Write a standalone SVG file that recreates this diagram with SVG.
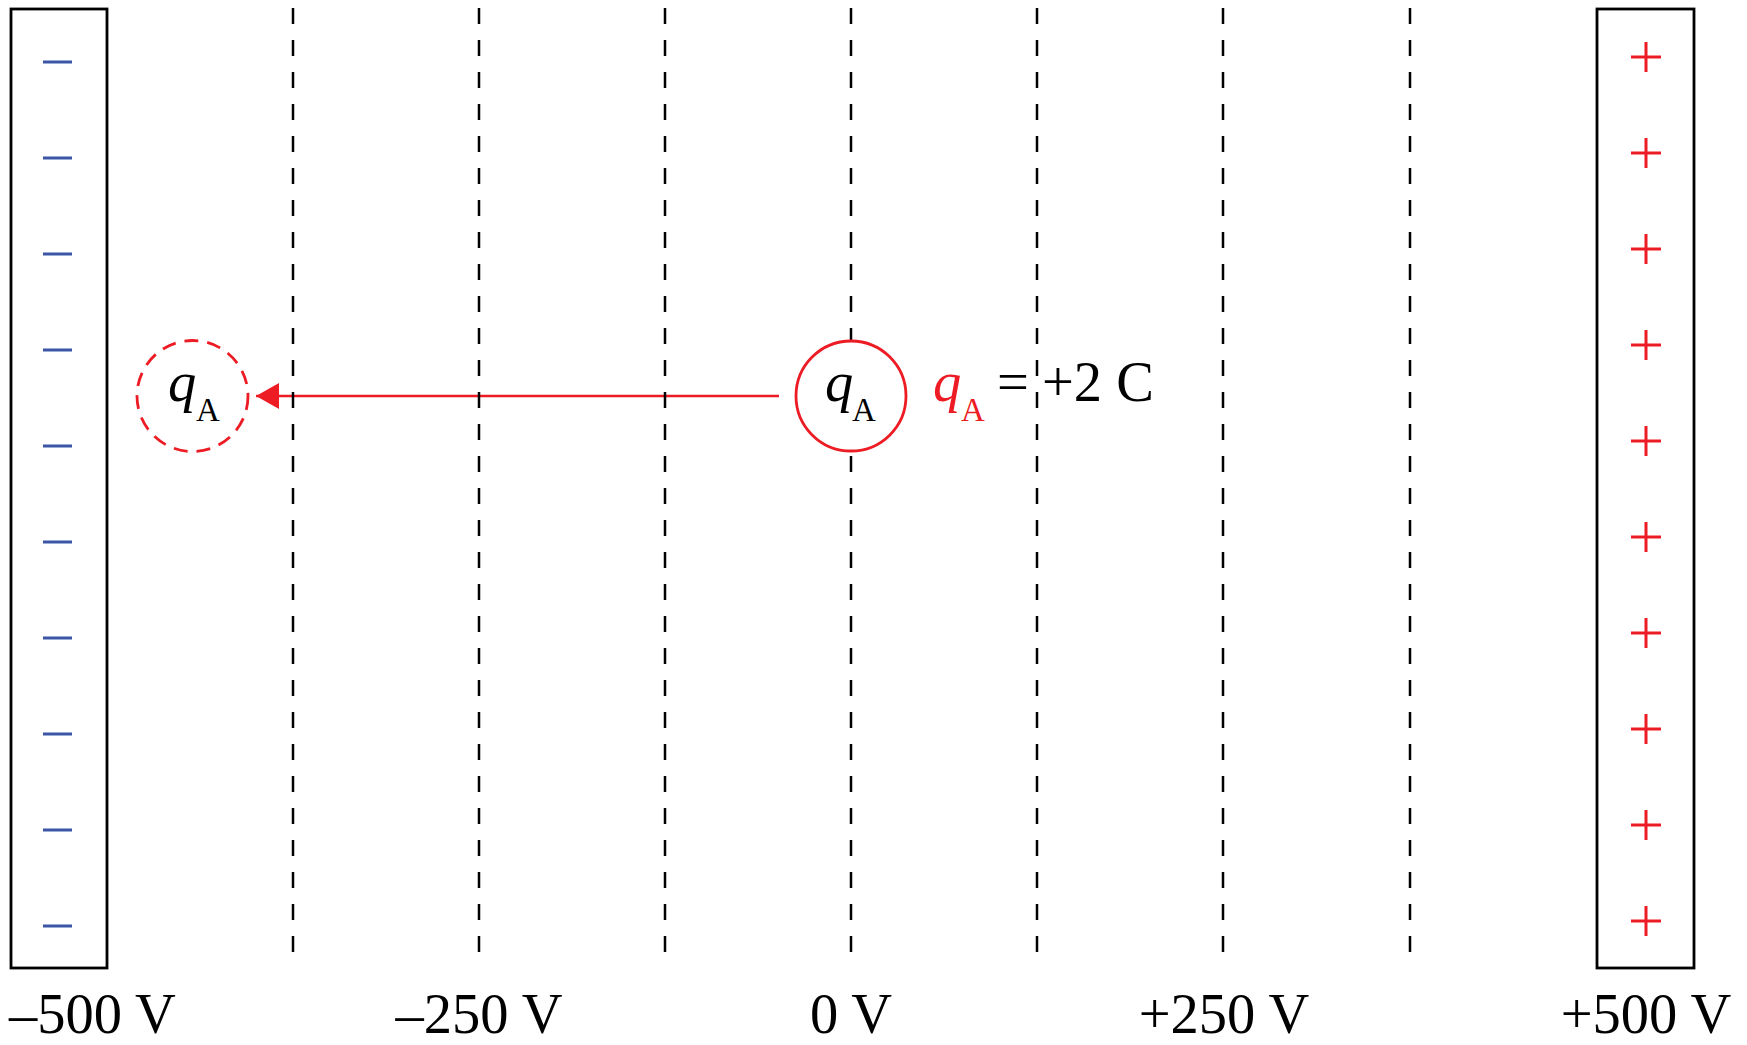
<svg xmlns="http://www.w3.org/2000/svg" width="1747" height="1045" viewBox="0 0 1747 1045">
<style>
.plate{fill:none;stroke:#000;stroke-width:2.8}
.minus{stroke:#3a55a5;stroke-width:3}
.plus{stroke:#ed1c24;stroke-width:3}
.eq{stroke:#000;stroke-width:2.5;stroke-dasharray:16 16}
.t{font-family:"Liberation Serif","Times New Roman",serif;font-size:56.5px;fill:#000}
.it{font-style:italic}
.sub{font-size:33px}
.red{fill:#ed1c24}
</style>
<defs>
<marker id="ah" markerUnits="userSpaceOnUse" markerWidth="24" markerHeight="28" refX="23" refY="13" orient="auto">
<path d="M0,0 L23,13 L0,26 Z" fill="#ed1c24"/>
</marker>
</defs>
<rect width="1747" height="1045" fill="#fff"/>
<g id="neg-plate">
<rect class="plate" x="11" y="9" width="96" height="959"/>
<g class="minus">
<line x1="43" y1="62" x2="72" y2="62"/>
<line x1="43" y1="158" x2="72" y2="158"/>
<line x1="43" y1="254" x2="72" y2="254"/>
<line x1="43" y1="350" x2="72" y2="350"/>
<line x1="43" y1="446" x2="72" y2="446"/>
<line x1="43" y1="542" x2="72" y2="542"/>
<line x1="43" y1="638" x2="72" y2="638"/>
<line x1="43" y1="734" x2="72" y2="734"/>
<line x1="43" y1="830" x2="72" y2="830"/>
<line x1="43" y1="926" x2="72" y2="926"/>
</g>
</g>
<g id="pos-plate">
<rect class="plate" x="1597" y="9" width="97" height="959"/>
<path class="plus" d="M1631,57h30M1646,42v30 M1631,153h30M1646,138v30 M1631,249h30M1646,234v30 M1631,345h30M1646,330v30 M1631,441h30M1646,426v30 M1631,537h30M1646,522v30 M1631,633h30M1646,618v30 M1631,729h30M1646,714v30 M1631,825h30M1646,810v30 M1631,921h30M1646,906v30"/>
</g>
<g id="connectors">
<line x1="779" y1="396" x2="256" y2="396" stroke="#ed1c24" stroke-width="2.6" marker-end="url(#ah)"/>
</g>
<g id="equipotentials">
<line class="eq" x1="293" y1="8" x2="293" y2="952"/>
<line class="eq" x1="479" y1="8" x2="479" y2="952"/>
<line class="eq" x1="665" y1="8" x2="665" y2="952"/>
<line class="eq" x1="851" y1="8" x2="851" y2="952"/>
<line class="eq" x1="1037" y1="8" x2="1037" y2="952"/>
<line class="eq" x1="1223" y1="8" x2="1223" y2="952"/>
<line class="eq" x1="1410" y1="8" x2="1410" y2="952"/>
</g>
<g id="charge-final">
<circle cx="192.5" cy="396" r="55.5" fill="#fff" stroke="#ed1c24" stroke-width="2.8" stroke-dasharray="14 9"/>
<text class="t it" x="168" y="401">q</text>
<text class="t sub" x="196" y="421">A</text>
</g>
<g id="charge-initial">
<circle cx="851" cy="396" r="55" fill="#fff" stroke="#ed1c24" stroke-width="2.8"/>
<text class="t it" x="825" y="401">q</text>
<text class="t sub" x="852" y="421">A</text>
</g>
<g id="charge-label">
<text class="t it red" x="933" y="401">q</text>
<text class="t sub red" x="961" y="421">A</text>
<text class="t" x="997" y="401">=</text>
<text class="t" x="1042" y="401">+2 C</text>
</g>
<g id="potential-labels">
<text class="t" x="9" y="1033">–500 V</text>
<text class="t" x="479" y="1033" text-anchor="middle">–250 V</text>
<text class="t" x="851" y="1033" text-anchor="middle">0 V</text>
<text class="t" x="1224" y="1033" text-anchor="middle">+250 V</text>
<text class="t" x="1646" y="1033" text-anchor="middle">+500 V</text>
</g>
</svg>
